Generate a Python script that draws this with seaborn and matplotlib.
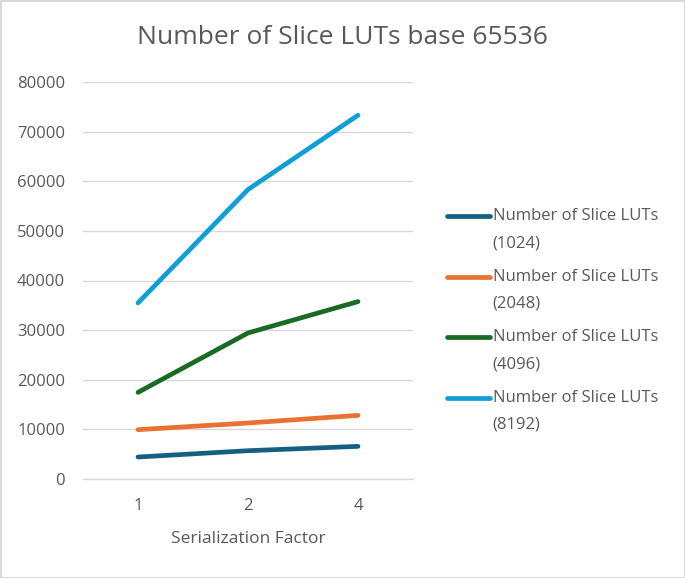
import matplotlib
matplotlib.use("Agg")
import matplotlib.pyplot as plt
import seaborn as sns
import pandas as pd
from matplotlib.patches import Rectangle
from matplotlib.legend_handler import HandlerLine2D

factors = ["1", "2", "4"]
luts_1024 = [4430, 5700, 6580]
luts_2048 = [9940, 11290, 12820]
luts_4096 = [17460, 29430, 35750]
luts_8192 = [35480, 58330, 73300]
series_names = ["Number of Slice LUTs\n(1024)", "Number of Slice LUTs\n(2048)",
                "Number of Slice LUTs\n(4096)", "Number of Slice LUTs\n(8192)"]
colors = ["#156082", "#E97132", "#196B24", "#0F9ED5"]
yticks = [0, 10000, 20000, 30000, 40000, 50000, 60000, 70000, 80000]

rows = []
for name, vals in zip(series_names, [luts_1024, luts_2048, luts_4096, luts_8192]):
    for f, v in zip(factors, vals):
        rows.append({"Serialization Factor": f, "LUTs": v, "Series": name})
df = pd.DataFrame(rows)

sns.set_theme(style="white")
plt.rcParams["font.family"] = ["Open Sans", "DejaVu Sans"]
text_color = "#595959"

fig = plt.figure(figsize=(6.85, 5.78), dpi=100)
ax = fig.add_axes([83/685, 1-479/578, (413-83)/685, (479-82)/578])

sns.lineplot(data=df, x="Serialization Factor", y="LUTs", hue="Series",
             palette=colors, linewidth=3.4, ax=ax, sort=False,
             solid_capstyle="round")

ax.set_xlim(-0.5, 2.5)
ax.set_ylim(0, 80000)
ax.set_yticks(yticks)
ax.set_yticklabels([str(t) for t in yticks])
ax.yaxis.grid(True, color="#D9D9D9", linewidth=1.0)
ax.set_axisbelow(True)
for s in ["top", "right", "left"]:
    ax.spines[s].set_visible(False)
ax.spines["bottom"].set_color("#D9D9D9")
ax.spines["bottom"].set_linewidth(1.0)
ax.tick_params(axis="both", length=0, labelsize=12, labelcolor=text_color)
ax.tick_params(axis="x", pad=14)
ax.tick_params(axis="y", pad=13)
ax.set_xlabel("Serialization Factor", fontsize=12.5, color=text_color, labelpad=12)
ax.set_ylabel("")

fig.text(0.5, 1-38/578, "Number of Slice LUTs base 65536", ha="center", va="center",
         fontsize=19, color=text_color)


class UpperLineHandler(HandlerLine2D):
    def create_artists(self, legend, orig_handle, xdescent, ydescent, width, height,
                       fontsize, trans):
        artists = super().create_artists(legend, orig_handle, xdescent, ydescent, width,
                                         height, fontsize, trans)
        for a in artists:
            a.set_ydata([y + 9.7 for y in a.get_ydata()])
            a.set_linewidth(3.4)
            a.set_solid_capstyle("round")
        return artists


handles, labels = ax.get_legend_handles_labels()
leg = ax.legend(handles, labels, loc="center left", bbox_to_anchor=(432/685, 1-320.5/578),
                bbox_transform=fig.transFigure, frameon=False, fontsize=12,
                handlelength=2.6, handletextpad=0.15, labelspacing=1.06,
                labelcolor=text_color,
                handler_map={h: UpperLineHandler() for h in handles})
for t in leg.get_texts():
    t.set_linespacing(1.9)

fig.patches.append(Rectangle((0.5/685, 0.5/578), 1-1/685, 1-1/578, transform=fig.transFigure,
                             fill=False, edgecolor="#D9D9D9", linewidth=1.5))

fig.savefig("out.png", dpi=100)
